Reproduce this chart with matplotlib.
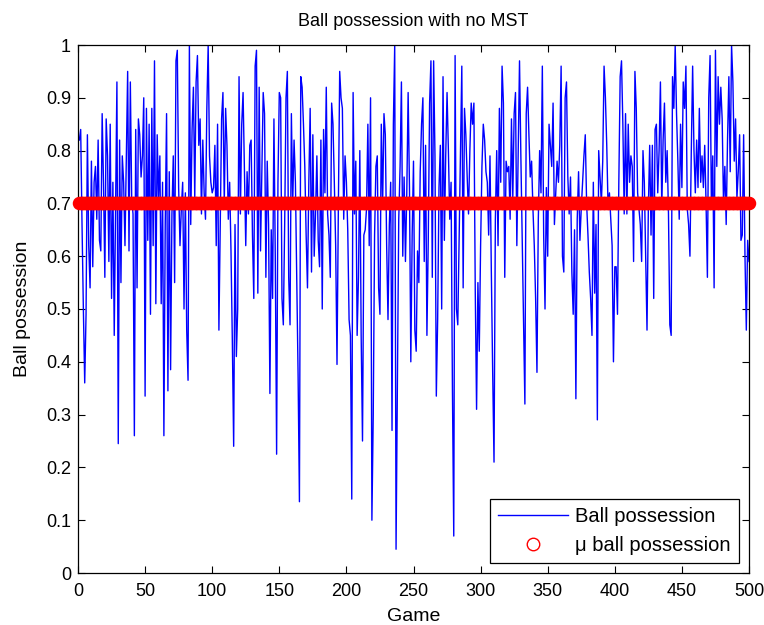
import matplotlib
matplotlib.use("Agg")
import matplotlib.pyplot as plt
import numpy as np

plt.rcParams['font.family'] = ['Liberation Sans', 'DejaVu Sans']

title = "Ball possession with no MST"
x_label = "Game"
y_label = "Ball possession"
legend_labels = ["Ball possession", "\u03bc ball possession"]

possession = [
    0.82, 0.84, 0.66, 0.50, 0.36, 0.49, 0.83, 0.62, 0.54, 0.78,
    0.58, 0.74, 0.77, 0.67, 0.82, 0.63, 0.61, 0.87, 0.74, 0.56,
    0.86, 0.79, 0.59, 0.85, 0.52, 0.74, 0.45, 0.69, 0.93, 0.245,
    0.82, 0.55, 0.79, 0.74, 0.62, 0.78, 0.95, 0.61, 0.93, 0.71,
    0.68, 0.26, 0.84, 0.54, 0.86, 0.83, 0.75, 0.79, 0.90, 0.335,
    0.88, 0.63, 0.85, 0.49, 0.88, 0.62, 0.97, 0.51, 0.83, 0.71,
    0.79, 0.51, 0.74, 0.26, 0.66, 0.87, 0.345, 0.76, 0.385, 0.68,
    0.79, 0.55, 0.97, 0.99, 0.73, 0.62, 0.69, 0.74, 0.50, 0.72,
    0.46, 0.365, 1.00, 0.66, 0.84, 0.92, 0.71, 0.93, 0.98, 0.81,
    0.86, 0.68, 0.82, 0.72, 0.67, 0.88, 1.00, 0.79, 0.74, 0.72,
    0.73, 0.81, 0.62, 0.85, 0.46, 0.66, 0.86, 0.91, 0.70, 0.88,
    0.81, 0.67, 0.74, 0.61, 0.44, 0.24, 0.66, 0.41, 0.50, 0.94,
    0.68, 0.85, 0.91, 0.76, 0.62, 0.76, 0.68, 0.81, 0.82, 0.64,
    0.52, 0.96, 0.99, 0.53, 0.92, 0.61, 0.76, 0.91, 0.87, 0.56,
    0.78, 0.66, 0.34, 0.65, 0.52, 0.86, 0.60, 0.225, 0.74, 0.91,
    0.90, 0.52, 0.47, 0.66, 0.90, 0.95, 0.56, 0.47, 0.87, 0.70,
    0.82, 0.74, 0.56, 0.375, 0.135, 0.94, 0.92, 0.85, 0.77, 0.64,
    0.54, 0.74, 0.88, 0.57, 0.83, 0.60, 0.68, 0.79, 0.63, 0.58,
    0.82, 0.50, 0.84, 0.72, 0.92, 0.68, 0.64, 0.56, 0.89, 0.85,
    0.74, 0.62, 0.395, 0.69, 0.95, 0.90, 0.88, 0.67, 0.79, 0.74,
    0.65, 0.48, 0.45, 0.14, 0.91, 0.68, 0.78, 0.45, 0.56, 0.80,
    0.45, 0.25, 0.64, 0.65, 0.69, 0.85, 0.62, 0.90, 0.10, 0.30,
    0.64, 0.77, 0.79, 0.54, 0.49, 0.85, 0.70, 0.87, 0.83, 0.62,
    0.48, 0.66, 0.74, 0.27, 0.85, 1.00, 0.045, 0.37, 0.67, 0.77,
    0.93, 0.60, 0.75, 0.59, 0.72, 0.91, 0.73, 0.40, 0.64, 0.78,
    0.46, 0.42, 0.61, 0.55, 0.76, 0.85, 0.90, 0.59, 0.81, 0.45,
    0.63, 0.89, 0.97, 0.56, 0.97, 0.79, 0.335, 0.48, 0.73, 0.81,
    0.50, 0.94, 0.63, 0.79, 0.91, 0.80, 0.67, 0.74, 0.35, 0.07,
    0.98, 0.50, 0.47, 0.63, 0.79, 0.96, 0.54, 0.88, 0.83, 0.75,
    0.68, 0.80, 0.89, 0.85, 0.89, 0.54, 0.31, 0.55, 0.42, 0.62,
    0.77, 0.85, 0.82, 0.76, 0.74, 0.64, 0.79, 0.57, 0.38, 0.21,
    0.67, 0.80, 0.62, 0.88, 0.74, 0.96, 0.89, 0.56, 0.78, 0.76,
    0.77, 0.67, 0.86, 0.71, 0.87, 0.91, 0.62, 0.79, 0.97, 0.79,
    0.63, 0.47, 0.32, 0.87, 0.92, 0.83, 0.75, 0.78, 0.69, 0.62,
    0.52, 0.38, 0.67, 0.80, 0.72, 0.96, 0.64, 0.50, 0.73, 0.60,
    0.85, 0.81, 0.77, 0.89, 0.66, 0.72, 0.78, 0.74, 0.81, 0.96,
    0.60, 0.57, 0.90, 0.93, 0.75, 0.68, 0.75, 0.57, 0.49, 0.65,
    0.33, 0.67, 0.76, 0.63, 0.69, 0.74, 0.79, 0.83, 0.70, 0.64,
    0.57, 0.52, 0.45, 0.74, 0.53, 0.66, 0.29, 0.80, 0.75, 0.70,
    0.78, 0.96, 0.90, 0.81, 0.69, 0.72, 0.67, 0.62, 0.40, 0.58,
    0.58, 0.49, 0.74, 0.94, 0.97, 0.85, 0.68, 0.87, 0.68, 0.85,
    0.74, 0.79, 0.77, 0.59, 0.95, 0.88, 0.72, 0.69, 0.66, 0.59,
    0.80, 0.74, 0.60, 0.46, 0.69, 0.81, 0.64, 0.81, 0.52, 0.84,
    0.85, 0.72, 0.80, 0.93, 0.69, 0.82, 0.89, 0.74, 0.80, 0.68,
    0.47, 0.45, 0.94, 0.88, 1.00, 0.87, 0.78, 0.67, 0.85, 0.73,
    0.93, 0.88, 0.96, 0.69, 0.66, 0.60, 0.80, 0.96, 0.80, 0.72,
    0.82, 0.73, 0.88, 0.74, 0.79, 0.73, 0.81, 0.70, 0.56, 0.90,
    0.98, 0.69, 0.79, 0.54, 0.99, 0.77, 0.94, 0.85, 0.92, 0.86,
    0.70, 0.77, 0.66, 0.82, 0.94, 0.76, 1.00, 0.93, 0.78, 0.86,
    0.71, 0.76, 0.83, 0.63, 0.64, 0.83, 0.60, 0.46, 0.63, 0.59,
]
mean_possession = 0.70

x_ticks = list(range(0, 501, 50))
y_ticks = [round(0.1 * i, 1) for i in range(11)]
y_tick_labels = ["0", "0.1", "0.2", "0.3", "0.4", "0.5", "0.6", "0.7", "0.8", "0.9", "1"]

games = np.arange(1, len(possession) + 1)

fig = plt.figure(figsize=(7.64, 6.25), dpi=100)
ax = fig.add_axes([78 / 764, 1 - 573 / 625, 671 / 764, 528 / 625])

ax.plot(games, possession, color=(0, 0, 1), lw=1.0, label=legend_labels[0], zorder=2)
ax.plot(games, [mean_possession] * len(games), linestyle='none', marker='o',
        markersize=7.5, markerfacecolor='none', markeredgecolor='red',
        markeredgewidth=2.2, label=legend_labels[1], clip_on=False, zorder=3)

ax.set_xlim(0, 500)
ax.set_ylim(0, 1)
ax.set_xticks(x_ticks)
ax.set_yticks(y_ticks)
ax.set_yticklabels(y_tick_labels)
ax.tick_params(direction='in', length=5, width=0.8, top=True, right=True,
               labelsize=13, colors='black')
ax.tick_params(axis='x', pad=7)
ax.tick_params(axis='y', pad=5)
for s in ax.spines.values():
    s.set_linewidth(0.9)
    s.set_color('black')

ax.set_title(title, fontsize=13, pad=14)
ax.set_xlabel(x_label, fontsize=14, labelpad=6)
ax.set_ylabel(y_label, fontsize=14, labelpad=11)

leg = ax.legend(loc='lower right', bbox_to_anchor=(0.985, 0.019), borderaxespad=0,
                fontsize=14.5, numpoints=1, handlelength=3.5, handletextpad=0.35,
                labelspacing=0.5, fancybox=False, framealpha=1, edgecolor='black',
                borderpad=0.4)
leg.get_frame().set_linewidth(0.9)
mh = leg.legend_handles[1]
mh.set_markeredgewidth(1.0)
mh.set_markersize(9)

fig.savefig("out.png", dpi=100)
